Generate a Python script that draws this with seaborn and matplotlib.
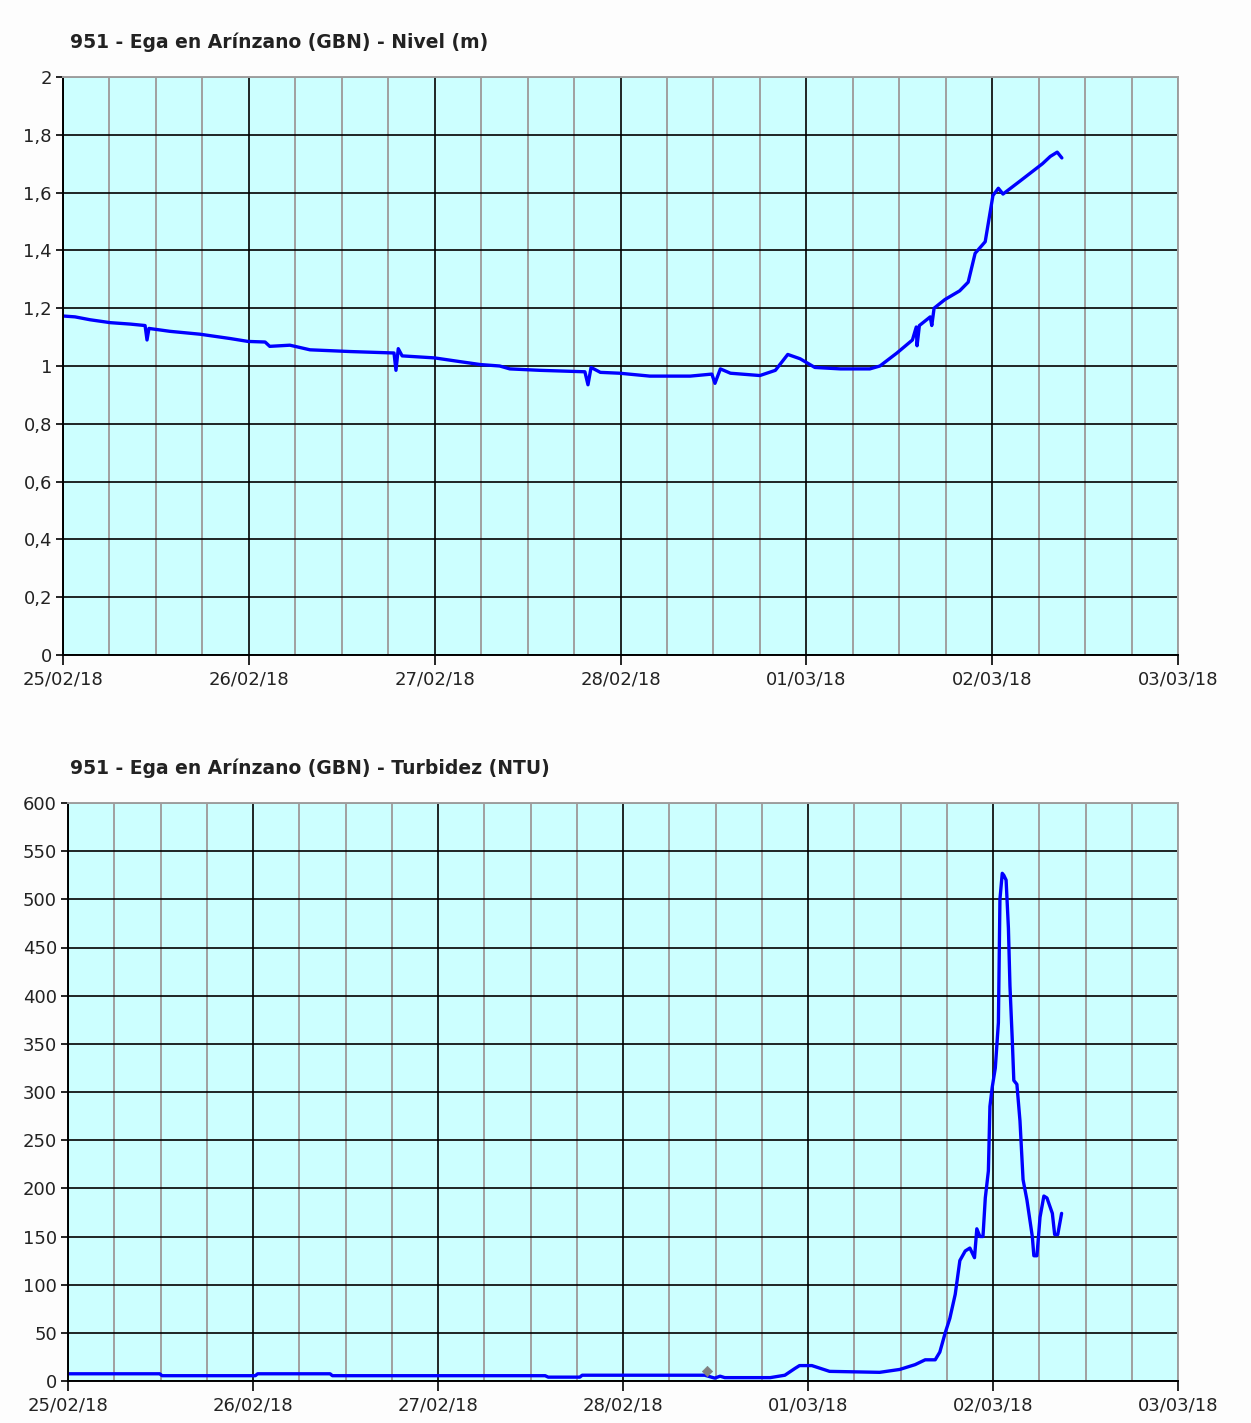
import pandas as pd
import numpy as np
import matplotlib.pyplot as plt
import matplotlib.dates as mdates
from matplotlib.ticker import FuncFormatter, MultipleLocator
import seaborn as sns

# Level series (hours after 25/02/18 00:00, metres)
nivel_hours = [0, 1.55, 3.5, 6.1, 8.7, 10.6, 10.85, 11.1, 13.8, 17.7, 21.6, 23.9, 26.1, 26.7,
               29.3, 31.9, 37.1, 42.75, 43.0, 43.3, 43.8, 48.0, 51.3, 53.9, 56.4, 57.7, 61.6,
               67.4, 67.8, 68.2, 69.4, 71.9, 75.8, 81.0, 83.8, 84.2, 84.9, 86.2, 90.0, 92.0,
               93.6, 95.2, 97.1, 100.4, 104.2, 105.5, 107.7, 109.7, 110.2, 110.3, 110.6, 112.0,
               112.2, 112.5, 113.9, 115.8, 116.9, 117.8, 119.1, 120.1, 120.8, 121.4, 123.6,
               126.5, 127.5, 128.4, 129.0]
nivel_values = [1.173, 1.17, 1.16, 1.15, 1.145, 1.14, 1.09, 1.13, 1.12, 1.11, 1.095, 1.085, 1.083,
                1.068, 1.072, 1.056, 1.05, 1.045, 0.985, 1.06, 1.035, 1.028, 1.015, 1.005, 1.0,
                0.99, 0.985, 0.98, 0.935, 0.995, 0.978, 0.975, 0.965, 0.965, 0.972, 0.94, 0.99,
                0.975, 0.967, 0.985, 1.04, 1.025, 0.995, 0.99, 0.99, 1.0, 1.045, 1.09, 1.135,
                1.07, 1.14, 1.17, 1.14, 1.2, 1.23, 1.26, 1.29, 1.39, 1.43, 1.59, 1.615, 1.595,
                1.64, 1.70, 1.725, 1.74, 1.72]

# Turbidity series (hours after 25/02/18 00:00, NTU)
turb_hours = [0, 11.9, 12.2, 24.3, 24.6, 34.0, 34.3, 61.9, 62.3, 66.4, 66.7, 82.6, 83.9, 84.6,
              85.2, 91.1, 93.0, 94.3, 94.9, 96.5, 98.8, 105.3, 107.9, 109.9, 111.2, 112.5, 113.1,
              113.8, 114.4, 115.1, 115.7, 116.4, 117.0, 117.6, 117.9, 118.3, 118.7, 119.0, 119.4,
              119.6, 119.9, 120.3, 120.7, 120.9, 121.2, 121.4, 121.7, 122.0, 122.2, 122.5, 122.7,
              123.1, 123.5, 123.9, 124.4, 125.1, 125.3, 125.7, 126.1, 126.6, 127.0, 127.7, 128.0,
              128.4, 128.9]
turb_values = [7.5, 7.5, 5.5, 5.5, 7.5, 7.5, 5.5, 5.5, 4, 4, 6, 6, 3, 5, 3.5, 3.5, 6, 13, 16, 16,
               10, 9, 12, 17, 22, 22, 30, 50, 65, 90, 125, 135, 138, 128, 158, 150, 150, 190, 218,
               285, 305, 325, 372, 500, 527, 525, 520, 470, 410, 354, 312, 308, 270, 209, 188, 150,
               130, 130, 170, 192, 190, 174, 152, 152, 174]
outlier_hours = [82.9]
outlier_values = [10]

titles = ['951 - Ega en Arínzano (GBN) - Nivel (m)', '951 - Ega en Arínzano (GBN) - Turbidez (NTU)']

start = pd.Timestamp('2018-02-25')
end = pd.Timestamp('2018-03-03')


def to_time(hours):
    return start + pd.to_timedelta(np.array(hours), unit='h')


nivel = pd.DataFrame({'t': to_time(nivel_hours), 'v': nivel_values})
turb = pd.DataFrame({'t': to_time(turb_hours), 'v': turb_values})
outl = pd.DataFrame({'t': to_time(outlier_hours), 'v': outlier_values})

sns.set_style('white')
plt.rcParams['font.family'] = 'DejaVu Sans'

fig = plt.figure(figsize=(12.51, 14.23), dpi=100, facecolor='#fdfdfd')
ax1 = fig.add_axes([63 / 1251, 1 - 655 / 1423, (1178 - 63) / 1251, (655 - 77) / 1423])
ax2 = fig.add_axes([68 / 1251, 1 - 1381 / 1423, (1178 - 68) / 1251, (1381 - 803) / 1423])

sns.lineplot(data=nivel, x='t', y='v', ax=ax1, color='#0000ff', lw=2.4)
sns.lineplot(data=turb, x='t', y='v', ax=ax2, color='#0000ff', lw=2.4)
sns.scatterplot(data=outl, x='t', y='v', ax=ax2, color='#808080', marker='D', s=28,
                edgecolor='#808080', zorder=5)


def fmt_comma(v, pos):
    return ('%g' % round(v, 2)).replace('.', ',')


for ax, ymax, ystep in [(ax1, 2, 0.2), (ax2, 600, 50)]:
    ax.set_facecolor('#ccffff')
    ax.set_xlim(start, end)
    ax.set_ylim(0, ymax)
    ax.yaxis.set_major_locator(MultipleLocator(ystep))
    ax.yaxis.set_major_formatter(FuncFormatter(fmt_comma))
    ax.xaxis.set_major_locator(mdates.DayLocator())
    ax.xaxis.set_minor_locator(mdates.HourLocator(byhour=[6, 12, 18]))
    ax.xaxis.set_major_formatter(mdates.DateFormatter('%d/%m/%y'))
    ax.grid(which='minor', axis='x', color='#a0a0a0', lw=1.4, zorder=0)
    ax.grid(which='major', axis='both', color='black', lw=1.2, zorder=0)
    ax.set_axisbelow(True)
    ax.set_xlabel('')
    ax.set_ylabel('')
    ax.tick_params(axis='x', which='major', direction='out', length=7, width=1.2,
                   color='black', labelsize=13, pad=4, labelcolor='#222222')
    ax.tick_params(axis='x', which='minor', length=0)
    ax.tick_params(axis='y', which='major', direction='out', length=5, width=1.2,
                   color='black', labelsize=13, pad=3, labelcolor='#222222')
    ax.tick_params(left=True, bottom=True)
    for side in ['left', 'bottom']:
        ax.spines[side].set_color('black')
        ax.spines[side].set_linewidth(1.4)
    for side in ['top', 'right']:
        ax.spines[side].set_color('#a0a0a0')
        ax.spines[side].set_linewidth(1.4)

fig.text(70 / 1251, 1 - 42 / 1423, titles[0], fontsize=13.5, fontweight='bold',
         va='center', ha='left', color='#222222')
fig.text(70 / 1251, 1 - 768 / 1423, titles[1], fontsize=13.5, fontweight='bold',
         va='center', ha='left', color='#222222')

fig.savefig('out.png', dpi=100, facecolor=fig.get_facecolor())
